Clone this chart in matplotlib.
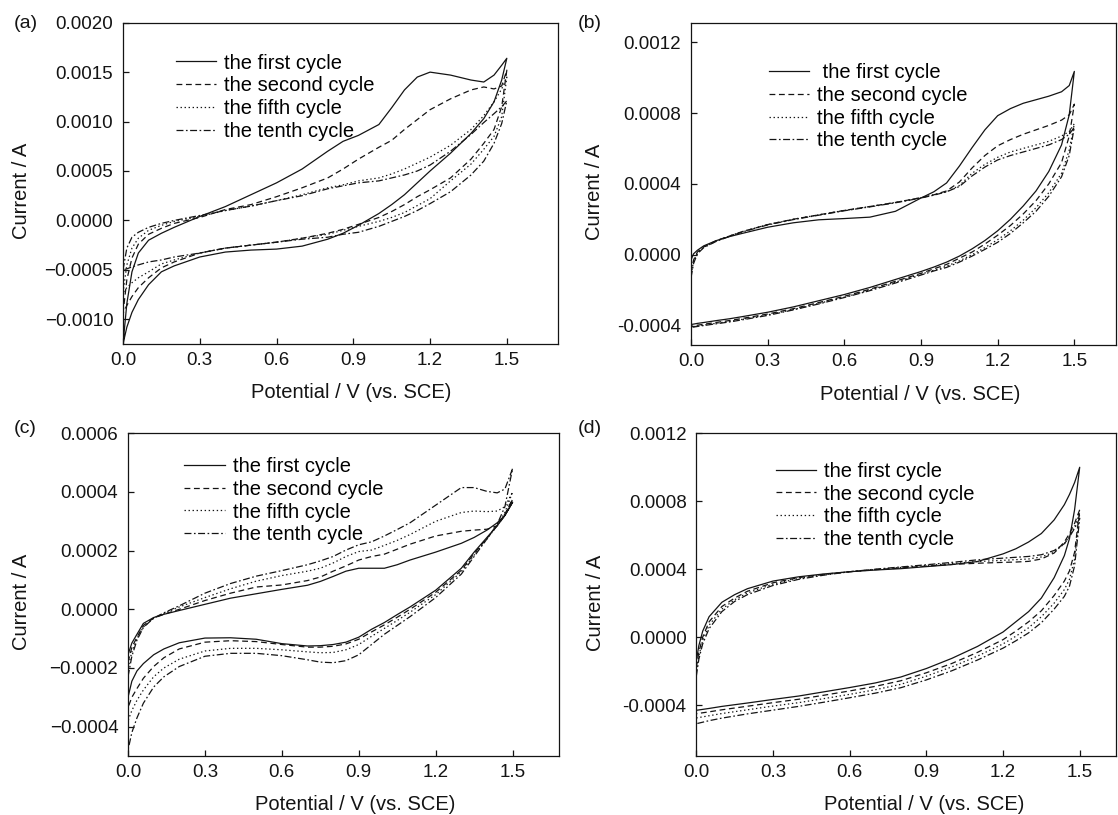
"""
Cyclic voltammograms, four electrodes (a)-(d), cycles 1 / 2 / 5 / 10.
Upper branch = anodic sweep 0 -> 1.5 V, lower branch = cathodic sweep back.
"""

import matplotlib
matplotlib.use("Agg")
import matplotlib.pyplot as plt
import numpy as np

plt.rcParams["font.family"] = ["Liberation Sans", "DejaVu Sans"]
plt.rcParams["lines.scale_dashes"] = False

CYCLES = ["the first cycle", "the second cycle", "the fifth cycle", "the tenth cycle"]

# ──────────────────────────────────────────────────────────────────────
# Panel (a)  (currents in mA, i.e. x 1e-3 A)
# ──────────────────────────────────────────────────────────────────────
A_SCALE = 1e-3
A_V = [0, 0.015, 0.035, 0.06, 0.1, 0.15, 0.2, 0.3, 0.4, 0.5, 0.6, 0.7, 0.8,
       0.86, 0.92, 1.0, 1.05, 1.1, 1.15, 1.2, 1.28, 1.36, 1.41, 1.45, 1.48, 1.5]
A_UP_1 = [-1.25, -0.84, -0.52, -0.33, -0.20, -0.13, -0.07, 0.04, 0.14, 0.26, 0.38, 0.52, 0.70,
          0.80, 0.86, 0.97, 1.14, 1.32, 1.45, 1.50, 1.47, 1.42, 1.40, 1.47, 1.57, 1.64]
A_UP_2 = [-0.94, -0.60, -0.38, -0.24, -0.14, -0.08, -0.03, 0.03, 0.11, 0.16, 0.24, 0.33, 0.43,
          0.52, 0.62, 0.74, 0.81, 0.92, 1.02, 1.12, 1.23, 1.32, 1.35, 1.33, 1.36, 1.52]
A_UP_5 = [-0.73, -0.45, -0.28, -0.18, -0.10, -0.05, -0.01, 0.04, 0.10, 0.145, 0.20, 0.26, 0.33,
          0.36, 0.40, 0.43, 0.47, 0.52, 0.58, 0.64, 0.76, 0.92, 1.06, 1.20, 1.33, 1.45]
A_UP_10 = [-0.50, -0.28, -0.17, -0.12, -0.07, -0.03, 0.0, 0.05, 0.10, 0.145, 0.20, 0.25, 0.32,
           0.35, 0.38, 0.40, 0.43, 0.46, 0.50, 0.56, 0.70, 0.87, 0.99, 1.08, 1.15, 1.21]
A_DN_1 = [-1.25, -1.08, -0.93, -0.80, -0.65, -0.52, -0.46, -0.37, -0.32, -0.30, -0.29, -0.26, -0.19,
          -0.13, -0.05, 0.07, 0.16, 0.26, 0.38, 0.50, 0.68, 0.88, 1.03, 1.20, 1.42, 1.64]
A_DN_2 = [-0.94, -0.86, -0.77, -0.68, -0.58, -0.48, -0.42, -0.33, -0.28, -0.25, -0.22, -0.18, -0.13,
          -0.09, -0.04, 0.03, 0.09, 0.16, 0.24, 0.31, 0.43, 0.62, 0.78, 0.92, 1.15, 1.52]
A_DN_5 = [-0.73, -0.68, -0.63, -0.58, -0.52, -0.44, -0.40, -0.33, -0.28, -0.25, -0.22, -0.18, -0.14,
          -0.10, -0.06, -0.01, 0.03, 0.08, 0.15, 0.22, 0.40, 0.57, 0.72, 0.85, 1.05, 1.45]
A_DN_10 = [-0.50, -0.49, -0.47, -0.45, -0.42, -0.40, -0.37, -0.33, -0.28, -0.25, -0.22, -0.19, -0.17,
           -0.14, -0.12, -0.06, -0.01, 0.04, 0.10, 0.17, 0.29, 0.46, 0.60, 0.78, 0.98, 1.21]
A_YTICKS = [-0.0010, -0.0005, 0.0, 0.0005, 0.0010, 0.0015, 0.0020]
A_YLABELS = ["\u22120.0010", "\u22120.0005", "0.0000", "0.0005", "0.0010", "0.0015", "0.0020"]

# ──────────────────────────────────────────────────────────────────────
# Panel (b)  (x 1e-4 A)
# ──────────────────────────────────────────────────────────────────────
B_SCALE = 1e-4
B_V = [0, 0.01, 0.025, 0.05, 0.1, 0.15, 0.2, 0.3, 0.4, 0.5, 0.6, 0.7, 0.8, 0.9,
       0.95, 1.0, 1.05, 1.1, 1.15, 1.2, 1.25, 1.3, 1.35, 1.4, 1.45, 1.48, 1.5]
B_UP_1 = [-0.3, 0.05, 0.25, 0.5, 0.8, 1.02, 1.2, 1.55, 1.80, 1.97, 2.04, 2.12, 2.45, 3.2,
          3.55, 4.05, 5.0, 6.05, 7.05, 7.85, 8.25, 8.55, 8.75, 8.95, 9.2, 9.55, 10.35]
B_UP_2 = [-1.0, -0.3, 0.15, 0.45, 0.8, 1.05, 1.3, 1.7, 2.0, 2.25, 2.5, 2.72, 2.95, 3.22,
          3.38, 3.6, 4.1, 4.9, 5.6, 6.15, 6.5, 6.8, 7.05, 7.3, 7.6, 7.9, 8.5]
B_UP_5 = [-1.1, -0.4, 0.1, 0.42, 0.78, 1.05, 1.3, 1.7, 2.0, 2.25, 2.5, 2.72, 2.95, 3.22,
          3.38, 3.55, 3.9, 4.6, 5.1, 5.5, 5.8, 6.0, 6.2, 6.4, 6.7, 6.95, 7.4]
B_UP_10 = [-1.3, -0.5, 0.05, 0.4, 0.76, 1.03, 1.28, 1.68, 1.98, 2.23, 2.48, 2.7, 2.93, 3.2,
           3.36, 3.55, 3.85, 4.45, 4.95, 5.35, 5.6, 5.8, 6.0, 6.2, 6.5, 6.8, 7.2]
B_DN_1 = [-3.94, -3.92, -3.88, -3.83, -3.72, -3.62, -3.5, -3.25, -2.95, -2.6, -2.25, -1.85, -1.4, -0.95,
          -0.7, -0.42, -0.08, 0.33, 0.8, 1.35, 2.0, 2.75, 3.6, 4.7, 6.2, 7.9, 10.35]
B_DN_2 = [-4.05, -4.02, -3.98, -3.93, -3.82, -3.72, -3.6, -3.35, -3.05, -2.7, -2.35, -1.95, -1.5, -1.05,
          -0.8, -0.55, -0.2, 0.15, 0.6, 1.1, 1.65, 2.3, 3.05, 4.0, 5.2, 6.7, 8.5]
B_DN_5 = [-4.1, -4.07, -4.03, -3.98, -3.87, -3.77, -3.65, -3.4, -3.1, -2.75, -2.4, -2.0, -1.55, -1.1,
          -0.88, -0.65, -0.35, 0.0, 0.4, 0.85, 1.35, 1.95, 2.65, 3.5, 4.6, 5.9, 7.4]
B_DN_10 = [-4.12, -4.08, -4.05, -4.0, -3.9, -3.8, -3.68, -3.43, -3.12, -2.78, -2.42, -2.03, -1.6, -1.15,
           -0.92, -0.72, -0.42, -0.08, 0.3, 0.7, 1.2, 1.8, 2.45, 3.3, 4.4, 5.6, 7.2]
B_YTICKS = [-0.0004, 0.0, 0.0004, 0.0008, 0.0012]
B_YLABELS = ["-0.0004", "0.0000", "0.0004", "0.0008", "0.0012"]

# ──────────────────────────────────────────────────────────────────────
# Panel (c)  (x 1e-4 A)
# ──────────────────────────────────────────────────────────────────────
C_SCALE = 1e-4
C_V = [0, 0.015, 0.035, 0.06, 0.1, 0.14, 0.2, 0.3, 0.4, 0.5, 0.6, 0.7, 0.75, 0.8,
       0.85, 0.9, 0.95, 1.0, 1.05, 1.1, 1.2, 1.3, 1.35, 1.4, 1.44, 1.47, 1.5]
C_UP_1 = [-1.55, -1.15, -0.85, -0.48, -0.28, -0.17, -0.04, 0.17, 0.38, 0.53, 0.68, 0.82, 0.95, 1.12,
          1.3, 1.4, 1.4, 1.4, 1.52, 1.68, 1.95, 2.25, 2.45, 2.7, 2.95, 3.2, 3.65]
C_UP_2 = [-1.8, -1.3, -0.95, -0.55, -0.3, -0.17, 0.0, 0.3, 0.55, 0.76, 0.83, 0.98, 1.1, 1.3,
          1.48, 1.68, 1.8, 1.88, 2.05, 2.22, 2.5, 2.66, 2.7, 2.73, 2.85, 3.2, 3.75]
C_UP_5 = [-2.0, -1.45, -1.0, -0.6, -0.3, -0.14, 0.08, 0.4, 0.7, 0.96, 1.15, 1.3, 1.4, 1.58,
          1.8, 1.97, 2.02, 2.18, 2.35, 2.55, 3.0, 3.3, 3.35, 3.33, 3.35, 3.5, 4.0]
C_UP_10 = [-2.3, -1.6, -1.05, -0.62, -0.3, -0.12, 0.12, 0.55, 0.88, 1.13, 1.32, 1.52, 1.65, 1.8,
           2.02, 2.2, 2.3, 2.5, 2.72, 2.95, 3.55, 4.15, 4.15, 4.02, 3.97, 4.1, 4.8]
C_DN_1 = [-3.0, -2.45, -2.1, -1.85, -1.55, -1.35, -1.14, -0.98, -0.97, -1.02, -1.17, -1.25, -1.24, -1.2,
          -1.12, -0.95, -0.68, -0.45, -0.18, 0.08, 0.65, 1.4, 1.95, 2.45, 2.85, 3.2, 3.65]
C_DN_2 = [-3.35, -3.0, -2.7, -2.35, -1.95, -1.65, -1.35, -1.12, -1.07, -1.1, -1.2, -1.29, -1.29, -1.26,
          -1.18, -1.02, -0.77, -0.53, -0.27, 0.0, 0.58, 1.33, 1.9, 2.42, 2.85, 3.25, 3.75]
C_DN_5 = [-3.8, -3.45, -3.1, -2.75, -2.3, -2.0, -1.7, -1.42, -1.33, -1.33, -1.38, -1.45, -1.48, -1.47,
          -1.38, -1.2, -0.92, -0.65, -0.38, -0.1, 0.5, 1.28, 1.85, 2.4, 2.85, 3.3, 4.0]
C_DN_10 = [-4.8, -4.2, -3.7, -3.2, -2.65, -2.3, -1.95, -1.6, -1.5, -1.5, -1.58, -1.72, -1.8, -1.82,
           -1.75, -1.55, -1.2, -0.85, -0.55, -0.25, 0.4, 1.2, 1.8, 2.4, 2.9, 3.5, 4.8]
C_YTICKS = [-0.0004, -0.0002, 0.0, 0.0002, 0.0004, 0.0006]
C_YLABELS = ["\u22120.0004", "\u22120.0002", "0.0000", "0.0002", "0.0004", "0.0006"]

# ──────────────────────────────────────────────────────────────────────
# Panel (d)  (x 1e-4 A) -- sweeps read on different potential grids
# ──────────────────────────────────────────────────────────────────────
D_SCALE = 1e-4
D_V_UP = [0, 0.01, 0.025, 0.05, 0.1, 0.15, 0.2, 0.3, 0.4, 0.5, 0.6, 0.7, 0.8, 0.9,
          1.0, 1.1, 1.2, 1.25, 1.3, 1.35, 1.4, 1.44, 1.46, 1.48, 1.5]
D_UP_1 = [-1.4, -0.5, 0.35, 1.2, 2.05, 2.5, 2.85, 3.3, 3.55, 3.72, 3.85, 3.95, 4.03, 4.15,
          4.27, 4.45, 4.9, 5.2, 5.6, 6.1, 6.9, 7.8, 8.4, 9.1, 10.0]
D_UP_2 = [-1.8, -0.9, 0.0, 0.9, 1.8, 2.3, 2.7, 3.2, 3.5, 3.7, 3.85, 3.97, 4.07, 4.18,
          4.28, 4.35, 4.4, 4.42, 4.46, 4.6, 4.95, 5.6, 6.1, 6.7, 7.5]
D_UP_5 = [-2.0, -1.1, -0.2, 0.7, 1.65, 2.2, 2.6, 3.12, 3.45, 3.68, 3.85, 3.98, 4.1, 4.22,
          4.33, 4.45, 4.52, 4.56, 4.6, 4.72, 5.0, 5.5, 5.95, 6.5, 7.3]
D_UP_10 = [-2.3, -1.3, -0.4, 0.5, 1.5, 2.1, 2.5, 3.04, 3.4, 3.65, 3.85, 4.0, 4.13, 4.26,
           4.4, 4.55, 4.65, 4.7, 4.75, 4.85, 5.1, 5.5, 5.9, 6.4, 7.0]
D_V_DN = [0, 0.05, 0.1, 0.2, 0.3, 0.4, 0.5, 0.6, 0.7, 0.8, 0.9, 1.0, 1.1,
          1.2, 1.25, 1.3, 1.35, 1.4, 1.44, 1.46, 1.48, 1.5]
D_DN_1 = [-4.31, -4.2, -4.08, -3.88, -3.67, -3.47, -3.22, -2.97, -2.7, -2.35, -1.85, -1.25, -0.55,
          0.3, 0.9, 1.5, 2.3, 3.5, 4.8, 5.8, 7.5, 10.0]
D_DN_2 = [-4.51, -4.4, -4.28, -4.07, -3.86, -3.66, -3.42, -3.17, -2.9, -2.57, -2.1, -1.55, -0.9,
          -0.15, 0.35, 0.9, 1.55, 2.45, 3.3, 3.9, 5.0, 7.5]
D_DN_5 = [-4.76, -4.63, -4.5, -4.28, -4.06, -3.86, -3.62, -3.37, -3.1, -2.78, -2.3, -1.75, -1.12,
          -0.4, 0.05, 0.55, 1.2, 2.0, 2.8, 3.4, 4.6, 7.3]
D_DN_10 = [-5.1, -4.92, -4.77, -4.52, -4.3, -4.08, -3.83, -3.57, -3.3, -2.98, -2.52, -1.98, -1.35,
           -0.65, -0.22, 0.25, 0.85, 1.65, 2.4, 3.0, 4.2, 7.0]
D_YTICKS = [-0.0004, 0.0, 0.0004, 0.0008, 0.0012]
D_YLABELS = ["-0.0004", "0.0000", "0.0004", "0.0008", "0.0012"]

X_TICKS = [0.0, 0.3, 0.6, 0.9, 1.2, 1.5]
X_LABELS = ["0.0", "0.3", "0.6", "0.9", "1.2", "1.5"]

# ──────────────────────────────────────────────────────────────────────
# Styling
# ──────────────────────────────────────────────────────────────────────
INK = "#141414"
STYLES = ["-", (0, (4.2, 2.6)), (0, (1.0, 1.9)), (0, (5.0, 1.8, 1.2, 1.8))]
LW = 0.9


def draw_panel(ax, v_up, ups, v_dn, dns, scale, xmax, ylim, yticks, ylabels,
               legend_xy, ylabel_xy, xlabel_xy, lead_space=False):
    for k in range(4):
        v = np.concatenate([np.asarray(v_up), np.asarray(v_dn)[::-1]])
        i = np.concatenate([np.asarray(ups[k]), np.asarray(dns[k])[::-1]]) * scale
        lab = CYCLES[k]
        if lead_space and k == 0:
            lab = " " + lab
        ax.plot(v, i, color=INK, lw=LW, linestyle=STYLES[k], label=lab)

    ax.set_xlim(0, xmax)
    ax.set_ylim(*ylim)
    ax.set_xticks(X_TICKS)
    ax.set_xticklabels(X_LABELS)
    ax.set_yticks(yticks)
    ax.set_yticklabels(ylabels)
    ax.tick_params(direction="in", length=4, width=0.9, labelsize=13.5,
                   top=False, right=False, colors=INK)
    ax.tick_params(axis="y", pad=7)
    ax.tick_params(axis="x", pad=6)
    for s in ax.spines.values():
        s.set_linewidth(0.9)
        s.set_color(INK)

    ax.set_ylabel("Current / A", fontsize=14.5, color=INK, va="center")
    ax.yaxis.set_label_coords(*ylabel_xy)
    ax.set_xlabel("Potential / V (vs. SCE)", fontsize=14.5, color=INK, va="center")
    ax.xaxis.set_label_coords(*xlabel_xy)

    ax.legend(loc="upper left", bbox_to_anchor=legend_xy, frameon=False,
              fontsize=14.5, borderpad=0, borderaxespad=0, handlelength=2.0,
              handletextpad=0.4, labelspacing=0.19)


W, H = 1118, 815
fig = plt.figure(figsize=(W / 100, H / 100), dpi=100)


def px_axes(left, top, right, bottom):
    return fig.add_axes([left / W, 1 - bottom / H, (right - left) / W, (bottom - top) / H])


ax_a = px_axes(123, 22.7, 558, 344)
ax_b = px_axes(691, 22.7, 1116, 345)
ax_c = px_axes(128, 433.3, 559, 756)
ax_d = px_axes(696.3, 433.3, 1116, 756)

draw_panel(ax_a, A_V, [A_UP_1, A_UP_2, A_UP_5, A_UP_10], A_V,
           [A_DN_1, A_DN_2, A_DN_5, A_DN_10], A_SCALE, 1.70, (-0.00125, 0.0020),
           A_YTICKS, A_YLABELS, legend_xy=(0.121, 0.904),
           ylabel_xy=(-0.234, 0.477), xlabel_xy=(0.525, -0.152))
draw_panel(ax_b, B_V, [B_UP_1, B_UP_2, B_UP_5, B_UP_10], B_V,
           [B_DN_1, B_DN_2, B_DN_5, B_DN_10], B_SCALE, 1.663, (-0.00051, 0.00131),
           B_YTICKS, B_YLABELS, legend_xy=(0.183, 0.875),
           ylabel_xy=(-0.226, 0.476), xlabel_xy=(0.539, -0.155), lead_space=True)
draw_panel(ax_c, C_V, [C_UP_1, C_UP_2, C_UP_5, C_UP_10], C_V,
           [C_DN_1, C_DN_2, C_DN_5, C_DN_10], C_SCALE, 1.681, (-0.0005, 0.0006),
           C_YTICKS, C_YLABELS, legend_xy=(0.131, 0.927),
           ylabel_xy=(-0.248, 0.478), xlabel_xy=(0.527, -0.149))
draw_panel(ax_d, D_V_UP, [D_UP_1, D_UP_2, D_UP_5, D_UP_10], D_V_DN,
           [D_DN_1, D_DN_2, D_DN_5, D_DN_10], D_SCALE, 1.642, (-0.0007, 0.0012),
           D_YTICKS, D_YLABELS, legend_xy=(0.19, 0.912),
           ylabel_xy=(-0.241, 0.474), xlabel_xy=(0.542, -0.149))

for lab, x, y in [("(a)", 13.6, 23.3), ("(b)", 578, 23.0), ("(c)", 13.6, 429), ("(d)", 578, 429)]:
    fig.text(x / W, 1 - y / H, lab, fontsize=14, color=INK, ha="left", va="center")

fig.savefig("out.png", dpi=100)
plt.close(fig)
